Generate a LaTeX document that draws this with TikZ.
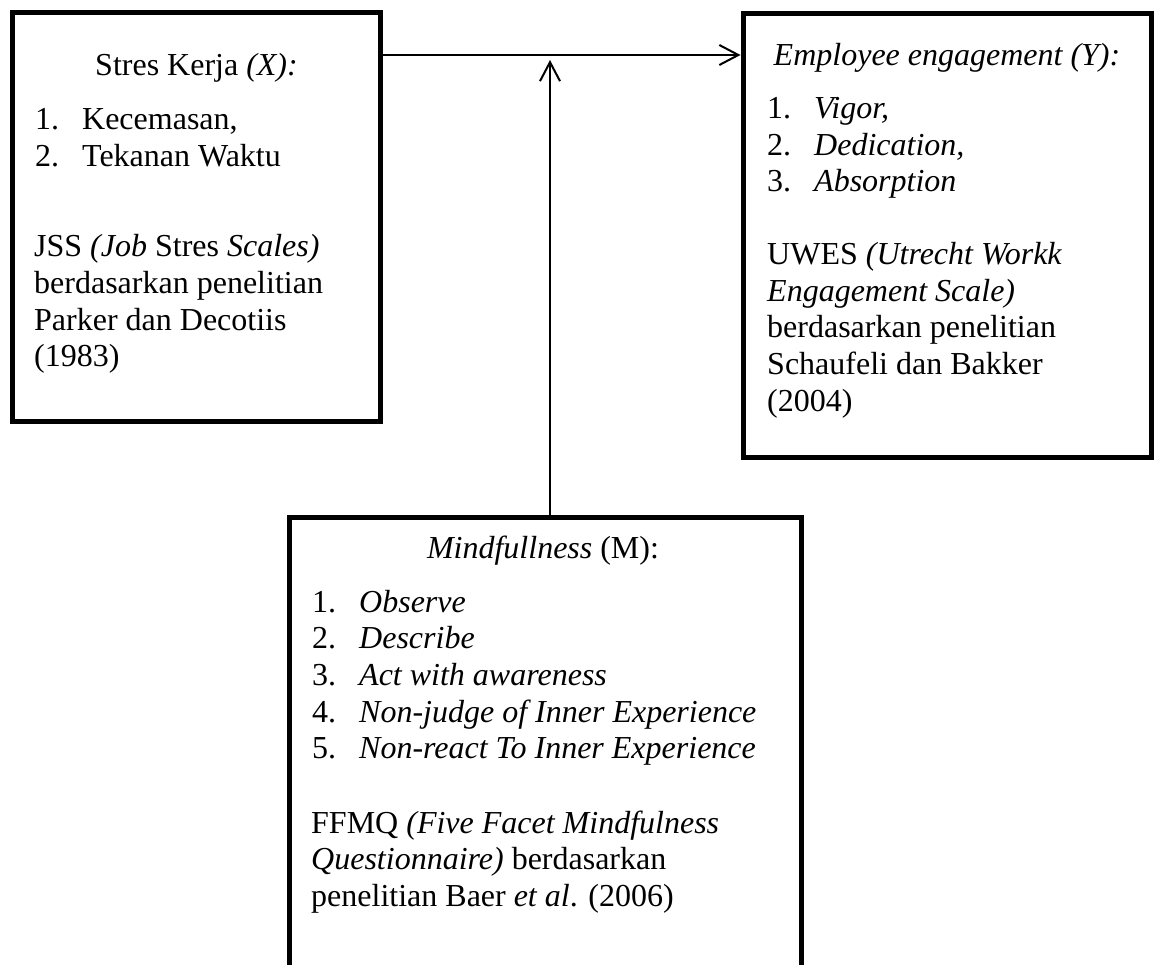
\documentclass[tikz,border=0pt]{standalone}
\usepackage{fontspec}
\setmainfont{Liberation Serif}
\usetikzlibrary{arrows.meta, positioning}
\tikzset{
    varbox/.style={rectangle, draw=black, line width=5pt, inner sep=0pt, outer sep=0pt},
    head/.style={anchor=base, inner sep=0pt, font=\fontsize{32}{36.7}\selectfont},
    body/.style={anchor=base west, inner sep=0pt, font=\fontsize{32}{36.7}\selectfont},
    arrow/.style={-{Straight Barb[length=19pt, width=20pt]}, line width=2pt}
}
\newcommand{\itemno}[1]{\makebox[47pt][l]{#1}}
\newcommand{\textlines}[1]{\begin{tabular}[t]{@{}l@{}}#1\end{tabular}}

\begin{document}
\begin{tikzpicture}[x=1pt, y=-1pt]

    \useasboundingbox (0,0) rectangle (1154,964);
    \clip (0,0) rectangle (1154,964);

    % Boxes
    \node (xbox) [varbox, minimum width=368pt, minimum height=409pt] at (196.5,217) {};
    \node (ybox) [varbox, minimum width=408pt, minimum height=444.5pt] at (947,235.25) {};
    \node (mbox) [varbox, minimum width=512pt, minimum height=480pt] at (545,757) {};

    % Stres kerja
    \node (xhead) [head] at (196.5,75) {Stres Kerja \textit{(X):}};
    \node (xlist) [body] at (35,129.3) {\textlines{\itemno{1.}Kecemasan,\\ \itemno{2.}Tekanan Waktu}};
    \node (xref) [body] at (34,256.7) {\textlines{JSS \textit{(Job} Stres \textit{Scales)}\\ berdasarkan penelitian\\ Parker dan Decotiis\\ (1983)}};

    % Employee engagement
    \node (yhead) [head] at (947,65) {\textit{Employee engagement (Y):}};
    \node (ylist) [body] at (767,118.3) {\textlines{\itemno{1.}\textit{Vigor,}\\ \itemno{2.}\textit{Dedication,}\\ \itemno{3.}\textit{Absorption}}};
    \node (yref) [body] at (767,264.3) {\textlines{UWES \textit{(Utrecht Workk}\\ \textit{Engagement Scale)}\\ berdasarkan penelitian\\ Schaufeli dan Bakker\\ (2004)}};

    % Mindfullness
    \node (mhead) [head] at (543,558) {\textit{Mindfullness} (M):};
    \node (mlist) [body] at (312,612) {\textlines{\itemno{1.}\textit{Observe}\\ \itemno{2.}\textit{Describe}\\ \itemno{3.}\textit{Act with awareness}\\ \itemno{4.}\textit{Non-judge of Inner Experience}\\ \itemno{5.}\textit{Non-react To Inner Experience}}};
    \node (mref) [body] at (311,833) {\textlines{FFMQ \textit{(Five Facet Mindfulness}\\ \textit{Questionnaire)} berdasarkan\\ penelitian Baer \textit{et al}. (2006)}};

    % Connecting
    \coordinate (join) at (550,55);
    \coordinate (tip) at (550,60);
    \draw [arrow, shorten >=2.5pt] (xbox.east |- join) -- (ybox.west |- join);
    \draw [arrow] (mbox.north -| join) -- (tip);

\end{tikzpicture}
\end{document}
